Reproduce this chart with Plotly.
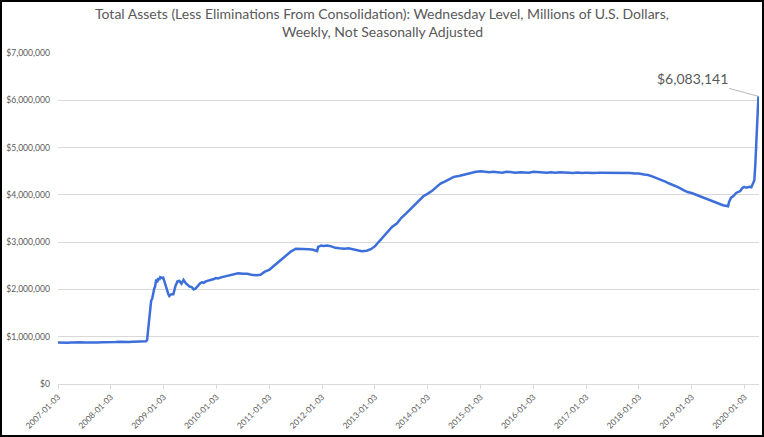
import plotly.graph_objects as go

dates = [
"2007-01-03","2007-02-07","2007-03-07","2007-04-04","2007-05-02","2007-06-06","2007-07-04","2007-08-01","2007-09-05","2007-10-03","2007-11-07","2007-12-05",
"2008-01-02","2008-02-06","2008-03-05","2008-04-02","2008-05-07","2008-06-04","2008-07-02","2008-08-06","2008-09-03","2008-09-10","2008-09-17","2008-09-24",
"2008-10-01","2008-10-08","2008-10-15","2008-10-22","2008-10-29","2008-11-05","2008-11-12","2008-11-19","2008-11-26","2008-12-03","2008-12-10","2008-12-17",
"2008-12-24","2008-12-31","2009-01-07","2009-01-14","2009-01-21","2009-01-28","2009-02-04","2009-02-11","2009-02-18","2009-02-25","2009-03-11","2009-03-25",
"2009-04-08","2009-04-22","2009-05-06","2009-05-20","2009-06-03","2009-06-17","2009-07-01","2009-07-15","2009-07-29","2009-08-12","2009-08-26","2009-09-09",
"2009-09-23","2009-10-07","2009-10-21","2009-11-04","2009-11-18","2009-12-02","2009-12-16","2009-12-30","2010-01-13","2010-02-10","2010-03-10","2010-04-07",
"2010-05-05","2010-06-02","2010-07-07","2010-08-04","2010-09-01","2010-10-06","2010-11-03","2010-12-01","2011-01-05","2011-02-02","2011-03-02","2011-04-06",
"2011-05-04","2011-06-01","2011-07-06","2011-08-03","2011-09-07","2011-10-05","2011-11-02","2011-11-30","2011-12-07","2011-12-28","2012-01-11","2012-02-08",
"2012-03-07","2012-04-04","2012-05-02","2012-06-06","2012-07-04","2012-08-01","2012-09-05","2012-10-03","2012-11-07","2012-12-05","2013-01-02","2013-02-06",
"2013-03-06","2013-04-03","2013-05-01","2013-06-05","2013-07-03","2013-08-07","2013-09-04","2013-10-02","2013-11-06","2013-12-04","2014-01-01","2014-02-05",
"2014-03-05","2014-04-02","2014-05-07","2014-06-04","2014-07-02","2014-08-06","2014-09-03","2014-10-01","2014-11-05","2014-12-03","2015-01-07","2015-02-04",
"2015-03-04","2015-04-01","2015-05-06","2015-06-03","2015-07-01","2015-08-05","2015-09-02","2015-10-07","2015-11-04","2015-12-02","2016-01-06","2016-02-03",
"2016-03-02","2016-04-06","2016-05-04","2016-06-01","2016-07-06","2016-08-03","2016-09-07","2016-10-05","2016-11-02","2016-12-07","2017-01-04","2017-02-01",
"2017-03-01","2017-04-05","2017-05-03","2017-06-07","2017-07-05","2017-08-02","2017-09-06","2017-10-04","2017-11-01","2017-12-06","2018-01-03","2018-02-07",
"2018-03-07","2018-04-04","2018-05-02","2018-06-06","2018-07-04","2018-08-01","2018-09-05","2018-10-03","2018-11-07","2018-12-05","2019-01-02","2019-02-06",
"2019-03-06","2019-04-03","2019-05-01","2019-06-05","2019-07-03","2019-08-07","2019-09-11","2019-09-18","2019-10-02","2019-10-16","2019-11-06","2019-11-20",
"2019-12-04","2019-12-18","2020-01-01","2020-01-15","2020-02-05","2020-02-19","2020-03-04","2020-03-11","2020-03-18","2020-03-25","2020-04-01","2020-04-08",
]

total_assets = [
878000,872000,875000,880000,874000,882000,878000,876000,872000,880000,884000,882000,
891000,886000,893000,887000,890000,895000,899000,900000,906000,927000,1160000,1400000,
1500000,1760000,1800000,1960000,2010000,2070000,2210000,2150000,2240000,2200000,2260000,2250000,
2240000,2250000,2170000,2080000,2040000,1980000,1900000,1860000,1880000,1900000,1900000,2070000,
2170000,2180000,2120000,2200000,2140000,2100000,2060000,2050000,2000000,2020000,2080000,2120000,
2150000,2140000,2170000,2180000,2200000,2210000,2220000,2240000,2230000,2260000,2280000,2310000,
2330000,2340000,2330000,2330000,2310000,2300000,2310000,2370000,2420000,2490000,2560000,2640000,
2730000,2800000,2860000,2860000,2860000,2850000,2840000,2810000,2900000,2930000,2920000,2930000,
2910000,2880000,2870000,2860000,2870000,2850000,2830000,2810000,2820000,2850000,2910000,3030000,
3140000,3230000,3320000,3400000,3510000,3610000,3690000,3790000,3890000,3970000,4020000,4090000,
4170000,4240000,4290000,4330000,4380000,4400000,4420000,4450000,4480000,4490000,4500000,4490000,
4480000,4490000,4480000,4470000,4490000,4480000,4470000,4480000,4480000,4470000,4490000,4480000,
4480000,4470000,4480000,4470000,4480000,4470000,4460000,4460000,4470000,4460000,4470000,4460000,
4460000,4470000,4470000,4460000,4460000,4470000,4460000,4460000,4460000,4450000,4450000,4430000,
4420000,4390000,4360000,4320000,4280000,4240000,4200000,4160000,4100000,4060000,4040000,4000000,
3960000,3930000,3900000,3860000,3830000,3780000,3760000,3850000,3940000,3970000,4040000,4060000,
4080000,4140000,4170000,4150000,4170000,4160000,4240000,4310000,4670000,5250000,5810000,6083141,
]

title_lines = ["Total Assets (Less Eliminations From Consolidation): Wednesday Level, Millions of U.S. Dollars,",
               "Weekly, Not Seasonally Adjusted"]
y_ticks = [0, 1000000, 2000000, 3000000, 4000000, 5000000, 6000000, 7000000]
y_tick_labels = ["$0", "$1,000,000", "$2,000,000", "$3,000,000", "$4,000,000",
                 "$5,000,000", "$6,000,000", "$7,000,000"]

W, H = 764, 437
L, R, T, B = 58, 5, 53, 53
FONT = "Lato, 'Open Sans', sans-serif"
GRAY = "#595959"

pw = W - L - R
ph = H - T - B

fig = go.Figure()
fig.add_trace(go.Scatter(x=dates, y=total_assets, mode="lines",
                         line=dict(color="#3c6fd9", width=2.5), hoverinfo="skip"))

fig.add_annotation(x=dates[-1], y=total_assets[-1], xref="x", yref="y",
                   text="${:,}".format(total_assets[-1]), showarrow=True, arrowhead=0,
                   arrowwidth=0.8, arrowcolor="#a6a6a6", ax=-66, ay=-18,
                   font=dict(family=FONT, size=14, color=GRAY))

for txt, ypix in zip(title_lines, [14, 32]):
    fig.add_annotation(xref="paper", yref="paper",
                       x=(W / 2 - L) / pw, y=1 + (T - ypix) / ph,
                       xanchor="center", yanchor="middle", showarrow=False,
                       text=txt, font=dict(family=FONT, size=14, color=GRAY))

fig.add_shape(type="rect", xref="paper", yref="paper",
              x0=-(L - 1) / pw, x1=1 + (R - 1) / pw, y0=-(B - 1) / ph, y1=1 + (T - 1) / ph,
              line=dict(color="#000000", width=2), layer="above")

fig.update_layout(
    width=W, height=H,
    margin=dict(l=L, r=R, t=T, b=B),
    paper_bgcolor="white", plot_bgcolor="white",
    showlegend=False,
    xaxis=dict(type="date", range=["2007-01-03", "2020-04-12"], automargin=False,
               tick0="2007-01-03", dtick="M12", tickformat="%Y-%m-%d", tickangle=-45,
               showgrid=False, showline=True, linecolor="#d9d9d9", linewidth=1,
               ticks="outside", ticklen=4, tickcolor="#d9d9d9",
               tickfont=dict(family=FONT, size=8.3, color=GRAY)),
    yaxis=dict(range=[0, 7000000], tickvals=y_ticks, ticktext=y_tick_labels, automargin=False,
               showgrid=True, gridcolor="#d9d9d9", gridwidth=1, zeroline=False,
               showline=False, ticks="", ticklabelstandoff=7,
               tickfont=dict(family=FONT, size=8.6, color=GRAY)),
)

fig.write_html("out.html")
